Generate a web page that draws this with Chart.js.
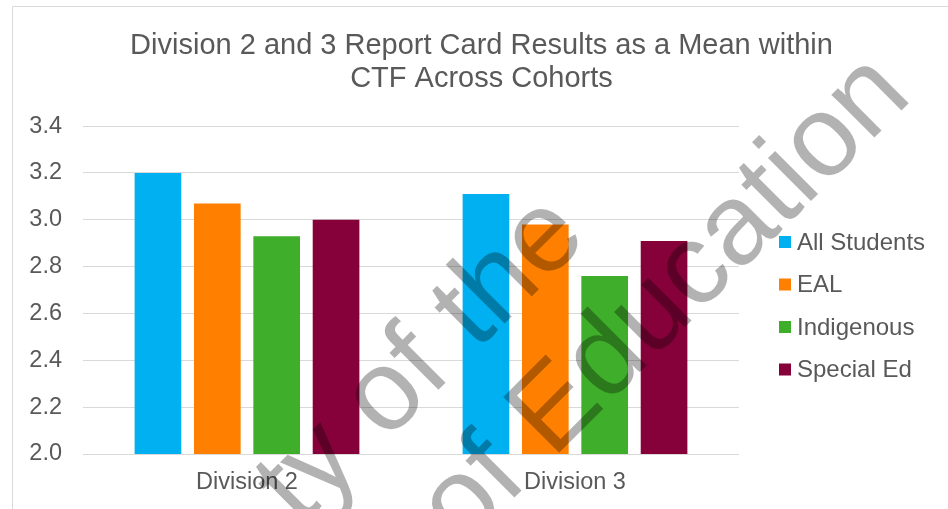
<!DOCTYPE html>
<html>
<head>
<meta charset="utf-8">
<script src="https://cdn.jsdelivr.net/npm/chart.js@4.4.0/dist/chart.umd.min.js"></script>
<style>
  html, body { margin: 0; padding: 0; background: #ffffff; }
</style>
</head>
<body>
<canvas id="chart" width="948" height="509"></canvas>
<script>
  // Datos de la gráfica
  const categorias = ['Division 2', 'Division 3'];
  const nombresSeries = ['All Students', 'EAL', 'Indigenous', 'Special Ed'];
  const allStudents = [3.20, 3.11];
  const eal = [3.07, 2.98];
  const indigenous = [2.93, 2.76];
  const specialEd = [3.00, 2.91];
  const marcasY = [2.0, 2.2, 2.4, 2.6, 2.8, 3.0, 3.2, 3.4];
  const lineasTitulo = ['Division 2 and 3 Report Card Results as a Mean within', 'CTF Across Cohorts'];
  const lineasMarcaAgua = ['ty of the', 'of Education'];

  const colores = ['#00B0F0', '#FF8000', '#3FAE2A', '#86003A'];
  const colorTexto = '#595959';
  const fuente = '"Liberation Sans", Arial, sans-serif';

  window.onload = function() {
    generarGrafica();
  };

  // Construir los datasets a partir de los arreglos
  function generarDatos() {
    const valores = [allStudents, eal, indigenous, specialEd];
    return {
      labels: categorias,
      datasets: nombresSeries.map((nombre, i) => ({
        label: nombre,
        data: valores[i],
        backgroundColor: colores[i],
        borderWidth: 0,
        categoryPercentage: 0.724,
        barPercentage: 0.786
      }))
    };
  }

  // Borde gris del área del gráfico
  const pluginBorde = {
    id: 'borde',
    beforeDraw(chart) {
      const ctx = chart.ctx;
      ctx.save();
      ctx.fillStyle = '#ffffff';
      ctx.fillRect(0, 0, chart.width, chart.height);
      ctx.strokeStyle = '#D9D9D9';
      ctx.lineWidth = 1;
      ctx.beginPath();
      ctx.moveTo(12.5, chart.height);
      ctx.lineTo(12.5, 6.5);
      ctx.lineTo(chart.width, 6.5);
      ctx.stroke();
      ctx.restore();
    }
  };

  // Leyenda dibujada a la derecha
  const pluginLeyenda = {
    id: 'leyenda',
    afterDraw(chart) {
      const ctx = chart.ctx;
      const x0 = 779, y0 = 242, paso = 42.5, caja = 12;
      ctx.save();
      ctx.font = '24px ' + fuente;
      ctx.textBaseline = 'middle';
      ctx.textAlign = 'left';
      chart.data.datasets.forEach((ds, i) => {
        const y = y0 + i * paso;
        ctx.fillStyle = ds.backgroundColor;
        ctx.fillRect(x0, y - caja / 2, caja, caja);
        ctx.fillStyle = colorTexto;
        ctx.fillText(ds.label, x0 + caja + 6, y + 1);
      });
      ctx.restore();
    }
  };

  // Marca de agua girada y semitransparente
  const pluginMarcaAgua = {
    id: 'marcaAgua',
    afterDraw(chart) {
      const ctx = chart.ctx;
      ctx.save();
      ctx.fillStyle = 'rgba(0, 0, 0, 0.3)';
      ctx.font = '115px ' + fuente;
      ctx.textBaseline = 'alphabetic';
      ctx.translate(462, 550);
      ctx.rotate(-Math.PI / 4);
      ctx.fillText(lineasMarcaAgua[1], 0, 0);
      ctx.fillText(lineasMarcaAgua[0], -99, -130);
      ctx.restore();
    }
  };

  const opciones = {
    responsive: false,
    animation: false,
    layout: { padding: { left: 15, right: 0, top: 0, bottom: 0 } },
    plugins: {
      legend: { display: false },
      tooltip: { enabled: false },
      title: {
        display: true,
        text: lineasTitulo,
        color: colorTexto,
        font: { family: fuente, size: 29, weight: 'normal', lineHeight: 1.14 },
        padding: { top: 29, bottom: 31 }
      }
    },
    scales: {
      x: {
        afterFit: (s) => { s.height = 55; },
        grid: { display: false, drawTicks: false },
        border: { display: false },
        ticks: { padding: 14, color: colorTexto, font: { family: fuente, size: 23.5 } }
      },
      y: {
        min: 2,
        max: 3.4,
        afterFit: (s) => { s.width = 68; },
        afterBuildTicks: (s) => { s.ticks = marcasY.map(v => ({ value: v })); },
        grid: { color: '#D9D9D9', lineWidth: 1, drawTicks: false },
        border: { display: false },
        ticks: {
          padding: 21,
          color: colorTexto,
          font: { family: fuente, size: 23.5 },
          callback: (v) => Number(v).toFixed(1)
        }
      },
      // eje vacío que reserva el espacio de la leyenda
      espacioLeyenda: {
        type: 'linear',
        position: 'right',
        display: true,
        afterFit: (s) => { s.width = 209; },
        grid: { display: false, drawTicks: false },
        border: { display: false },
        ticks: { display: false }
      }
    }
  };

  // Función para generar la gráfica
  function generarGrafica() {
    const ctx = document.getElementById('chart').getContext('2d');
    window.grafica = new Chart(ctx, {
      type: 'bar',
      data: generarDatos(),
      options: opciones,
      plugins: [pluginBorde, pluginLeyenda, pluginMarcaAgua]
    });
  }
</script>
</body>
</html>
